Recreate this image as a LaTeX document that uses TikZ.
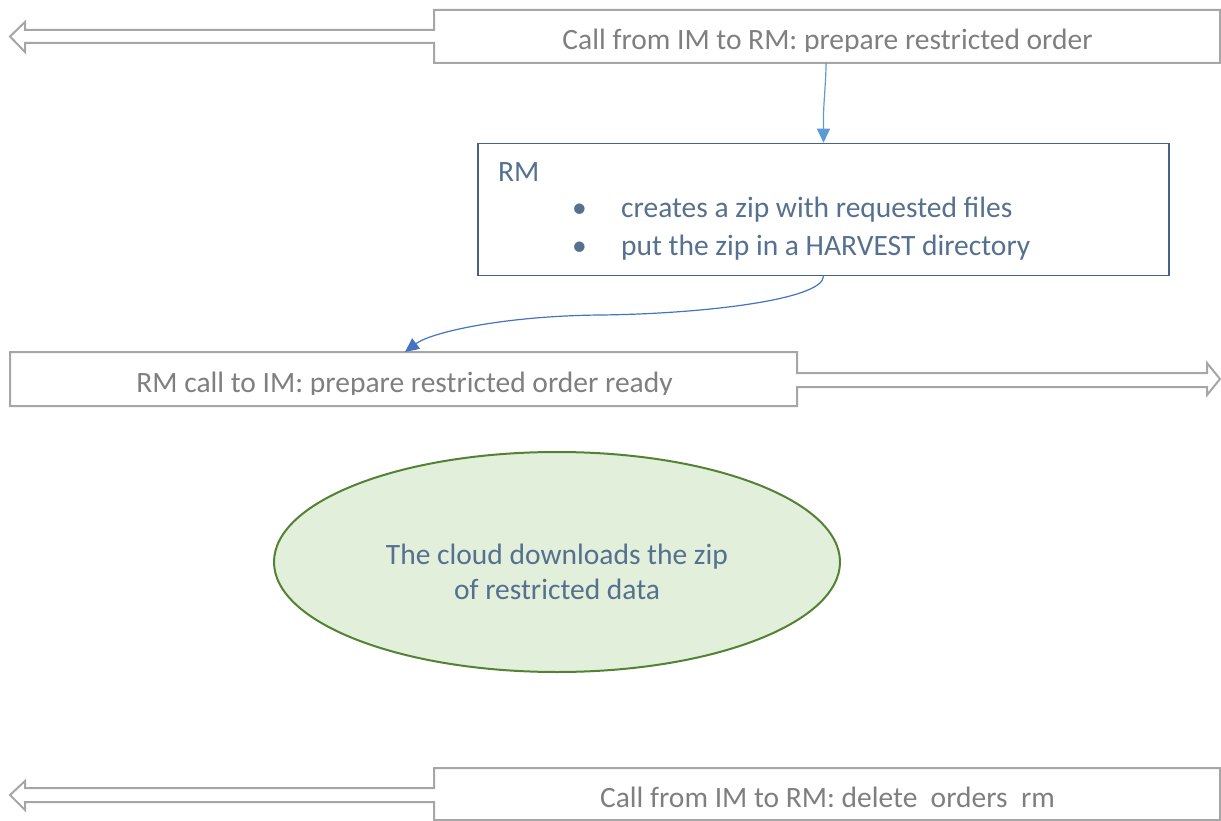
\documentclass[tikz,border=0pt]{standalone}
\usepackage{fontspec}
\setmainfont{Carlito}
\usetikzlibrary{arrows.meta,shapes.geometric}

\definecolor{outlinegrey}{HTML}{A6A6A6}
\definecolor{labelgrey}{HTML}{7F7F7F}
\definecolor{slatetext}{HTML}{56708F}
\definecolor{slateline}{HTML}{44628A}
\definecolor{linkblue}{HTML}{5B9BD5}
\definecolor{linkdark}{HTML}{4472C4}
\definecolor{cloudfill}{HTML}{E2EFDA}
\definecolor{cloudline}{HTML}{548235}

\tikzset{
  callshape/.style={draw=outlinegrey, line width=2pt, line join=miter},
  calllabel/.style={inner sep=0pt, anchor=base, text=labelgrey,
    font=\fontsize{29.5}{35}\selectfont},
  bodytext/.style={inner sep=0pt, anchor=base west, text=slatetext,
    font=\fontsize{29.5}{35}\selectfont},
  link/.style={line width=1.2pt, -{Triangle[length=14pt,width=13pt]}},
}

\begin{document}
\begin{tikzpicture}[x=1pt,y=-1pt]
\useasboundingbox (0,0) rectangle (1221,821);

% anchor boxes of the three block arrows
\node[minimum width=786pt, minimum height=53pt, inner sep=0pt] (callA) at (827,36.5) {};
\node[minimum width=787pt, minimum height=54pt, inner sep=0pt] (callB) at (403.5,379) {};
\node[minimum width=786pt, minimum height=52pt, inner sep=0pt] (callC) at (827,794) {};

% top block arrow, pointing left
\draw[callshape] (1220,10) -- (434,10) -- (434,30) -- (25,30) -- (25,22) -- (10,36.5)
  -- (25,52) -- (25,43) -- (434,43) -- (434,63) -- (1220,63) -- cycle;
% middle block arrow, pointing right
\draw[callshape] (10,352) -- (797,352) -- (797,373) -- (1207,373) -- (1207,363) -- (1220,379)
  -- (1207,395) -- (1207,387) -- (797,387) -- (797,406) -- (10,406) -- cycle;
% bottom block arrow, pointing left
\draw[callshape] (1220,768) -- (434,768) -- (434,788) -- (25,788) -- (25,781) -- (10,795)
  -- (25,810) -- (25,802) -- (434,802) -- (434,820) -- (1220,820) -- cycle;

% labels of the block arrows, cut just below the baseline
\begin{scope}
  \clip (434,10) rectangle (1220,52);
  \node[calllabel] (callAtext) at (827.5,50) {Call from IM to RM: prepare restricted order};
\end{scope}
\begin{scope}
  \clip (10,352) rectangle (797,394);
  \node[calllabel] (callBtext) at (404.5,392) {RM call to IM: prepare restricted order ready};
\end{scope}
\node[calllabel] (callCtext) at (827.5,807) {Call from IM to RM: delete\ \ orders\ \ rm};

% RM task box
\node[draw=slateline, line width=1.5pt, minimum width=691pt, minimum height=132pt,
  inner sep=0pt] (rmbox) at (823.5,209.5) {};
\node[bodytext] (rmtitle) at (498,182) {RM};
\node[bodytext] (bulletA) at (572,218) {•};
\node[bodytext] (itemA) at (621,218) {creates a zip with requested files};
\node[bodytext] (bulletB) at (572,255) {•};
\node[bodytext] (itemB) at (621,255) {put the zip in a HARVEST directory};

% cloud download step
\node[ellipse, draw=cloudline, fill=cloudfill, line width=2pt,
  minimum width=566pt, minimum height=220pt, inner sep=0pt] (cloud) at (557,562) {};
\node[calllabel, text=slatetext] (cloudA) at (557,564) {The cloud downloads the zip};
\node[calllabel, text=slatetext] (cloudB) at (557,599) {of restricted data};

% connectors
\draw[link, draw=linkblue]
  ([xshift=-1pt]callA.south) .. controls (826,85) and (823,105) .. (823.5,125)
  -- (rmbox.north);
\draw[link, draw=linkdark]
  (rmbox.south) .. controls (823,300) and (700,314) .. (600,315)
  .. controls (500,316) and (430,333) .. (405,352);
\end{tikzpicture}
\end{document}
